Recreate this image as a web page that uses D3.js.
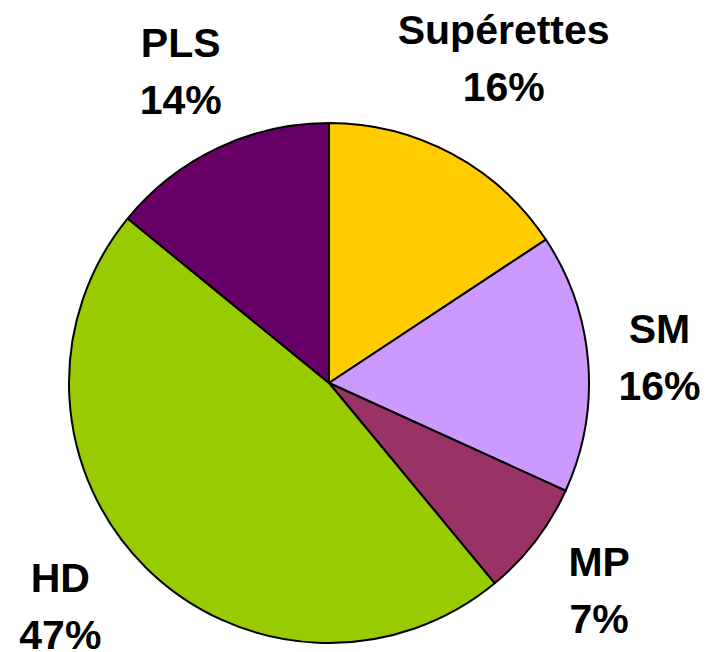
<!DOCTYPE html>
<html>
<head>
<meta charset="utf-8">
<script src="https://cdn.jsdelivr.net/npm/d3@7"></script>
<style>
  body { margin: 0; background: #fff; }
  text { font-family: "Liberation Sans", Arial, sans-serif; font-weight: bold; }
</style>
</head>
<body>
<div id="chart"></div>
<script>
// slices, clockwise from 12 o'clock
var categories = ["Supérettes", "SM", "MP", "HD", "PLS"]
var values = [15.7, 16.1, 7.2, 46.9, 14.1]
var percentLabels = ["16%", "16%", "7%", "47%", "14%"]
var colors = ["#FFCC00", "#CC99FF", "#993366", "#99CC00", "#660066"]

let width = 709
let height = 652
let cx = 329, cy = 383, radius = 260
let fontSize = 41, lineGap = 57
let capHeight = fontSize * 0.716
let labelDist = 290 // distance from centre to the label box's nearest corner

let svg = d3.select("#chart")
  .append("svg")
  .attr("width", width)
  .attr("height", height)

let pie = d3.pie().sort(null).value(d => d)
let arcs = pie(values)

let arc = d3.arc().innerRadius(0).outerRadius(radius)

let g = svg.append("g")
  .attr("transform", "translate(" + cx + "," + cy + ")")

g.selectAll("path")
  .data(arcs)
  .enter().append("path")
  .attr("d", arc)
  .attr("fill", (d, i) => colors[i])
  .attr("stroke", "#000")
  .attr("stroke-width", 2)
  .attr("stroke-linejoin", "round")

// labels: two lines, box pushed out along the slice's mid angle
let labels = g.selectAll("g.label")
  .data(arcs)
  .enter().append("g")
  .attr("class", "label")

labels.append("text")
  .attr("text-anchor", "middle")
  .attr("y", capHeight)
  .style("font-size", fontSize + "px")
  .text((d, i) => categories[i])

labels.append("text")
  .attr("text-anchor", "middle")
  .attr("y", capHeight + lineGap)
  .style("font-size", fontSize + "px")
  .text((d, i) => percentLabels[i])

labels.each(function(d) {
  let box = this.getBBox()
  let w = box.width, h = capHeight + lineGap
  let mid = (d.startAngle + d.endAngle) / 2
  let dx = Math.sin(mid), dy = -Math.cos(mid)
  // nearest corner offset from box centre
  let a = Math.sign(dx) * w / 2, b = Math.sign(dy) * h / 2
  let p = a * dx + b * dy
  let t = p + Math.sqrt(p * p - (a * a + b * b - labelDist * labelDist))
  let x = t * dx, y = t * dy
  // keep the box inside the picture, sliding sideways to stay clear of the pie
  let maxY = height - 3 - cy - h / 2
  let minY = 3 - cy + h / 2
  if (y > maxY || y < minY) {
    y = Math.max(minY, Math.min(maxY, y))
    let cyc = y - b
    x = Math.sign(dx) * Math.sqrt(labelDist * labelDist - cyc * cyc) + a
  }
  d3.select(this).attr("transform", "translate(" + x + "," + (y - h / 2) + ")")
})
</script>
</body>
</html>
